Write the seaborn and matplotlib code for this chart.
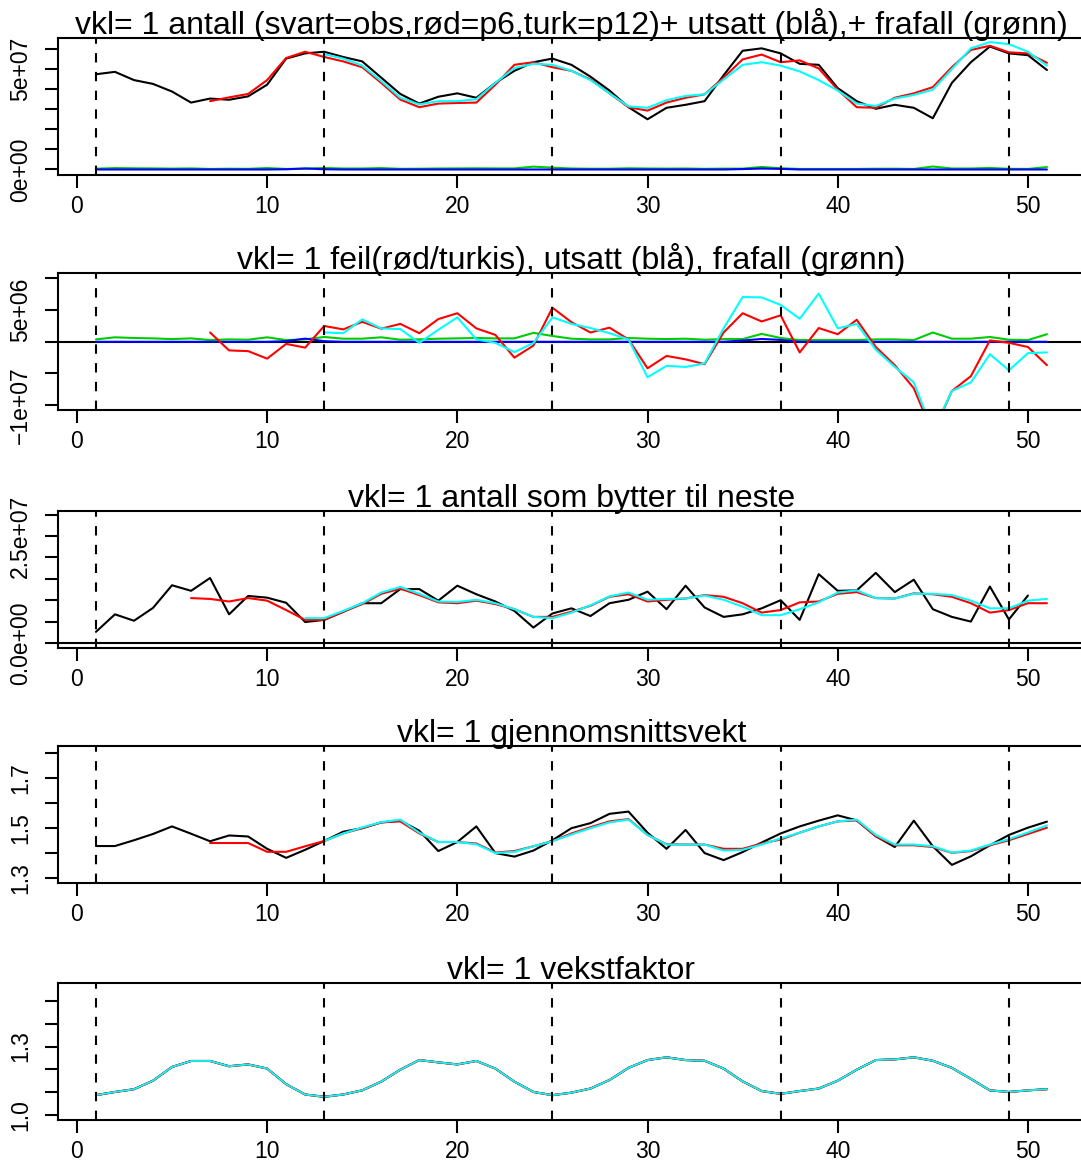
import numpy as np
import pandas as pd
import matplotlib
matplotlib.use("Agg")
import matplotlib.pyplot as plt
import seaborn as sns

# ---------------- data ----------------
weeks = list(range(1, 52))
season_marks = [1, 13, 25, 37, 49]

# panel 1: antall (units 1e7)
p1_obs = [4.74, 4.86, 4.45, 4.26, 3.88, 3.33, 3.53, 3.47, 3.64, 4.22,
          5.52, 5.78, 5.86, 5.60, 5.38, 4.57, 3.76, 3.28, 3.62, 3.79,
          3.57, 4.31, 4.91, 5.34, 5.52, 5.21, 4.62, 3.93, 3.10, 2.50,
          3.07, 3.22, 3.40, 4.69, 5.91, 6.03, 5.78, 5.26, 5.21, 4.05,
          3.40, 3.02, 3.22, 3.07, 2.55, 4.31, 5.34, 6.12, 5.78, 5.69, 4.95]
p1_p6_start = 7
p1_p6 = [3.40, 3.59, 3.76, 4.45, 5.55, 5.86, 5.60, 5.38, 5.09, 4.31,
         3.48, 3.10, 3.28, 3.31, 3.33, 4.22, 5.21, 5.34, 5.09, 4.91,
         4.48, 3.79, 3.10, 2.93, 3.33, 3.57, 3.74, 4.57, 5.48, 5.72,
         5.34, 5.43, 5.03, 3.97, 3.10, 3.07, 3.57, 3.79, 4.10, 5.09,
         5.95, 6.16, 5.83, 5.78, 5.31]
p1_p12_start = 13
p1_p12 = [5.74, 5.52, 5.17, 4.40, 3.57, 3.24, 3.40, 3.40, 3.50, 4.31,
          5.05, 5.26, 5.21, 4.91, 4.45, 3.79, 3.14, 3.07, 3.45, 3.66,
          3.74, 4.48, 5.21, 5.34, 5.17, 4.88, 4.45, 3.93, 3.28, 3.16,
          3.53, 3.71, 3.97, 5.00, 6.03, 6.34, 6.24, 5.86, 5.17]

# utsatt / frafall (units 1e6)
utsatt = [0, 0, 0, 0, 0, 0, 0, 0, 0, 0,
          0.1, 0.5, 0.1, 0, 0, 0, 0, 0, 0, 0,
          0, 0, 0, 0, 0, 0, 0, 0, 0, 0,
          0, 0, 0, 0, 0.2, 0.45, 0.3, 0, 0, 0,
          0, 0, 0, 0, 0, 0, 0, 0, 0, 0, 0]
frafall = [0.38, 0.71, 0.60, 0.54, 0.43, 0.54, 0.27, 0.38, 0.33, 0.71,
           0.27, 0.38, 0.76, 0.49, 0.49, 0.71, 0.33, 0.38, 0.49, 0.54,
           0.60, 0.54, 0.54, 1.41, 0.92, 0.49, 0.38, 0.38, 0.60, 0.49,
           0.43, 0.49, 0.33, 0.43, 0.43, 1.25, 0.60, 0.27, 0.27, 0.27,
           0.27, 0.38, 0.38, 0.27, 1.47, 0.49, 0.49, 0.76, 0.33, 0.27, 1.20]

# panel 2: feil (units 1e6)
p2_p6_start = 7
p2_p6 = [1.47, -1.36, -1.47, -2.66, -0.33, -0.92, 2.50, 1.96, 3.15, 2.07,
         2.83, 1.36, 3.59, 4.51, 2.12, 1.09, -2.50, -0.60, 5.38, 3.10,
         1.47, 2.23, 0.38, -4.18, -2.23, -2.77, -3.53, 1.47, 4.51, 3.21,
         4.18, -1.68, 2.17, 1.20, 3.48, -0.82, -3.70, -7.34, -14.5, -7.77,
         -5.43, 0.22, -0.16, -0.82, -3.70]
p2_p12_start = 13
p2_p12 = [1.47, 1.36, 3.53, 2.12, 2.01, -0.16, 1.90, 3.86, 0.38, -0.16,
          -1.63, -0.20, 3.86, 2.83, 2.17, 1.36, 0.38, -5.60, -3.80, -3.97,
          -3.42, 2.12, 7.07, 7.01, 5.82, 3.64, 7.61, 2.12, 2.83, -1.25,
          -3.97, -6.41, -14.2, -7.77, -6.41, -1.96, -4.51, -1.79, -1.68]

# panel 3: antall som bytter til neste (units 1e6)
p3_obs = [2.6, 6.7, 5.2, 8.2, 13.5, 12.2, 15.2, 6.7, 11.0, 10.6,
          9.4, 4.9, 5.4, 7.3, 9.3, 9.3, 12.6, 12.6, 9.9, 13.4,
          11.4, 9.7, 7.5, 3.6, 6.9, 8.1, 6.3, 9.3, 10.1, 12.0,
          7.9, 13.4, 8.3, 6.1, 6.7, 8.1, 10.0, 5.4, 16.1, 12.2,
          12.3, 16.4, 11.9, 14.8, 7.9, 6.1, 5.0, 13.2, 5.5, 11.1]
p3_p6_start = 6
p3_p6 = [10.5, 10.3, 9.7, 10.5, 9.9, 7.7, 5.4, 5.4, 7.3, 9.1,
         11.5, 12.7, 11.2, 9.5, 9.3, 9.9, 9.1, 7.9, 6.1, 6.1,
         7.3, 8.7, 10.8, 11.4, 9.7, 10.1, 10.4, 11.2, 10.8, 9.3,
         7.1, 7.7, 9.5, 9.7, 11.5, 11.9, 10.5, 10.4, 11.6, 11.4,
         10.8, 9.3, 7.1, 7.7, 9.3, 9.3]
p3_p12_start = 12
p3_p12 = [5.8, 5.8, 7.5, 9.3, 11.8, 13.1, 11.5, 9.7, 9.6, 10.1,
          9.3, 7.9, 6.1, 5.8, 7.1, 8.8, 10.9, 11.8, 10.1, 10.3,
          10.4, 11.1, 10.1, 8.5, 6.5, 6.5, 7.9, 9.5, 11.8, 12.3,
          10.5, 10.4, 11.5, 11.5, 11.2, 9.9, 8.1, 8.1, 9.9, 10.3]

# panel 4: gjennomsnittsvekt
p4_obs = [1.429, 1.429, 1.452, 1.477, 1.507, 1.478, 1.448, 1.471, 1.467, 1.418,
          1.382, 1.414, 1.449, 1.486, 1.500, 1.523, 1.530, 1.490, 1.409, 1.445,
          1.507, 1.401, 1.387, 1.411, 1.452, 1.500, 1.520, 1.557, 1.566, 1.482,
          1.418, 1.493, 1.401, 1.373, 1.405, 1.443, 1.479, 1.507, 1.530, 1.551,
          1.531, 1.468, 1.425, 1.530, 1.428, 1.354, 1.388, 1.432, 1.473, 1.502, 1.526]
p4_p6_start = 7
p4_p6 = [1.441, 1.441, 1.441, 1.406, 1.406, 1.428, 1.449, 1.479, 1.500, 1.523,
         1.527, 1.479, 1.445, 1.445, 1.439, 1.403, 1.409, 1.428, 1.449, 1.479,
         1.504, 1.527, 1.536, 1.473, 1.436, 1.435, 1.435, 1.418, 1.418, 1.439,
         1.455, 1.482, 1.507, 1.527, 1.531, 1.468, 1.432, 1.432, 1.425, 1.402,
         1.409, 1.432, 1.452, 1.477, 1.502]
p4_p12_start = 13
p4_p12 = [1.449, 1.479, 1.503, 1.524, 1.534, 1.482, 1.445, 1.445, 1.436, 1.401,
          1.406, 1.428, 1.448, 1.475, 1.500, 1.523, 1.534, 1.473, 1.435, 1.435,
          1.435, 1.411, 1.414, 1.435, 1.459, 1.482, 1.507, 1.527, 1.534, 1.473,
          1.435, 1.435, 1.428, 1.403, 1.411, 1.435, 1.456, 1.483, 1.511]

# panel 5: vekstfaktor
p5_vf = [1.088, 1.102, 1.114, 1.151, 1.211, 1.237, 1.237, 1.214, 1.222, 1.204,
         1.136, 1.091, 1.081, 1.091, 1.109, 1.147, 1.199, 1.241, 1.231, 1.222,
         1.237, 1.204, 1.147, 1.102, 1.088, 1.099, 1.117, 1.154, 1.207, 1.241,
         1.253, 1.241, 1.238, 1.204, 1.148, 1.106, 1.094, 1.106, 1.117, 1.151,
         1.199, 1.241, 1.244, 1.253, 1.238, 1.207, 1.159, 1.109, 1.102, 1.109, 1.114]

titles = [
    "vkl= 1 antall (svart=obs,rød=p6,turk=p12)+ utsatt (blå),+ frafall (grønn)",
    "vkl= 1 feil(rød/turkis), utsatt (blå), frafall (grønn)",
    "vkl= 1 antall som bytter til neste",
    "vkl= 1 gjennomsnittsvekt",
    "vkl= 1 vekstfaktor",
]

# ---------------- style ----------------
sns.set_theme(style="white")
plt.rcParams['font.family'] = ['Liberation Sans', 'DejaVu Sans']
plt.rcParams['axes.unicode_minus'] = True
plt.rcParams['text.color'] = 'black'
plt.rcParams['axes.titlecolor'] = 'black'

BLACK, RED, CYAN, BLUE, GREEN = "#000000", "#FF0000", "#00FFFF", "#0000FF", "#00CD00"
LW = 1.5
TICK_FS = 16.5
TITLE_FS = 23

W, H = 1081, 1164
fig = plt.figure(figsize=(W / 100, H / 100), dpi=100)
tops = [37.9, 273.4, 511.3, 746.2, 983.4]
PH = 136.8
LEFT, RIGHT = 57.9, 1085.0


def series(ax, start, vals, color, scale=1.0, lw=LW):
    x = np.arange(start, start + len(vals))
    df = pd.DataFrame({"t": x, "v": np.asarray(vals, dtype=float) * scale})
    sns.lineplot(data=df, x="t", y="v", color=color, linewidth=lw, ax=ax,
                 legend=False, errorbar=None, estimator=None, sort=False)


axes = []
for i, top in enumerate(tops):
    ax = fig.add_axes([LEFT / W, 1 - (top + PH) / H, (RIGHT - LEFT) / W, PH / H])
    axes.append(ax)

# panel 1
ax = axes[0]
series(ax, 1, p1_obs, BLACK, 1e7)
series(ax, p1_p6_start, p1_p6, RED, 1e7)
series(ax, p1_p12_start, p1_p12, CYAN, 1e7)
series(ax, 1, frafall, GREEN, 1e6)
series(ax, 1, utsatt, BLUE, 1e6)
ax.set_ylim(-0.26e7, 6.55e7)
ax.set_yticks([0, 1e7, 2e7, 3e7, 4e7, 5e7, 6e7])
ax.set_yticklabels(["0e+00", "", "", "", "", "5e+07", ""])

# panel 2
ax = axes[1]
ax.axhline(0, color=BLACK, linewidth=LW)
series(ax, 1, frafall, GREEN, 1e6)
series(ax, 1, utsatt, BLUE, 1e6)
series(ax, p2_p6_start, p2_p6, RED, 1e6)
series(ax, p2_p12_start, p2_p12, CYAN, 1e6)
ax.set_ylim(-1.08e7, 1.08e7)
ax.set_yticks([-1e7, -5e6, 0, 5e6, 1e7])
ax.set_yticklabels(["\u22121e+07", "", "", "5e+06", ""])

# panel 3
ax = axes[2]
ax.axhline(0, color=BLACK, linewidth=LW)
series(ax, 1, p3_obs, BLACK, 1e6)
series(ax, p3_p6_start, p3_p6, RED, 1e6)
series(ax, p3_p12_start, p3_p12, CYAN, 1e6)
ax.set_ylim(-1.2e6, 30.8e6)
ax.set_yticks([0, 5e6, 1e7, 1.5e7, 2e7, 2.5e7, 3e7])
ax.set_yticklabels(["0.0e+00", "", "", "", "", "2.5e+07", ""])

# panel 4
ax = axes[3]
series(ax, 1, p4_obs, BLACK)
series(ax, p4_p6_start, p4_p6, RED)
series(ax, p4_p12_start, p4_p12, CYAN)
ax.set_ylim(1.282, 1.826)
ax.set_yticks([1.3, 1.4, 1.5, 1.6, 1.7, 1.8])
ax.set_yticklabels(["1.3", "", "1.5", "", "1.7", ""])

# panel 5
ax = axes[4]
series(ax, 1, p5_vf, BLACK)
series(ax, 1, p5_vf, RED)
series(ax, 1, p5_vf, CYAN, lw=1.3)
ax.set_ylim(0.979, 1.575)
ax.set_yticks([1.0, 1.1, 1.2, 1.3, 1.4, 1.5])
ax.set_yticklabels(["1.0", "", "", "1.3", "", ""])

for ax, title in zip(axes, titles):
    for s in season_marks:
        ax.axvline(s, color=BLACK, linewidth=LW, linestyle=(0, (4.5, 4.5)))
    ax.set_xlim(-1, 53)
    ax.set_xticks([0, 10, 20, 30, 40, 50])
    ax.set_xticklabels(["0", "10", "20", "30", "40", "50"])
    ax.set_xlabel("")
    ax.set_ylabel("")
    ax.set_title(title, fontsize=TITLE_FS, pad=3, color=BLACK)
    for sp in ax.spines.values():
        sp.set_visible(True)
        sp.set_color(BLACK)
        sp.set_linewidth(LW)
    ax.tick_params(axis="both", direction="out", length=9.5, width=LW,
                   color=BLACK, labelsize=TICK_FS, labelcolor=BLACK,
                   bottom=True, left=True, top=False, right=False)
    ax.tick_params(axis="x", pad=5)
    ax.tick_params(axis="y", pad=9)
    for lab in ax.get_yticklabels():
        lab.set_rotation(90)
        lab.set_va("center")

fig.savefig("out.png", dpi=100)
